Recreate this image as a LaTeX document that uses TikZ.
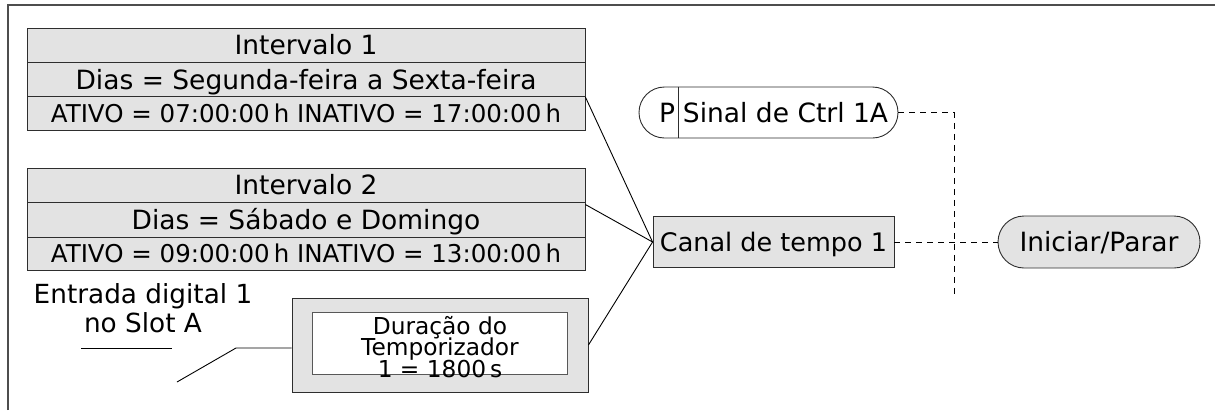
\documentclass[tikz,border=0pt]{standalone}
\usepackage{fontspec}
\setmainfont{DejaVu Sans}
\usetikzlibrary{calc}
\definecolor{boxg}{HTML}{E3E3E3}
\definecolor{linec}{HTML}{2E2E2E}
\newcommand\tmrfont{\fontsize{23.3}{21.5}\selectfont\lineskiplimit=-50pt\relax}
\tikzset{
  frameline/.style={draw=linec!85, line width=1.4pt},
  box/.style={draw=linec, fill=boxg, line width=0.9pt, inner sep=0pt},
  wbox/.style={draw=linec!80, fill=white, line width=0.9pt, inner sep=0pt},
  conn/.style={draw=black, line width=0.9pt},
  dashline/.style={draw=black, line width=0.9pt, dash pattern=on 6pt off 5pt},
  fbig/.style={font=\fontsize{26.5}{28}\selectfont, text height=19.3pt, text depth=0pt},
  fsmall/.style={font=\fontsize{24.5}{26}\selectfont, text height=17.9pt, text depth=0pt},
  fcanal/.style={font=\fontsize{25.5}{27}\selectfont, text height=18.6pt, text depth=0pt},
  plain/.style={inner sep=0pt},
}
\begin{document}
\begin{tikzpicture}[x=1pt,y=-1pt]
\useasboundingbox (0,0) rectangle (1215,410);
\draw[frameline] (8,410) -- (8,5) -- (1215,5);

% Intervalo 1
\node[box, fbig, minimum width=558pt, minimum height=34pt] (i1a) at (306,45) {Intervalo 1};
\node[box, fbig, minimum width=558pt, minimum height=34.7pt] (i1b) at (306,79.35) {Dias = Segunda-feira a Sexta-feira};
\node[box, fsmall, minimum width=558pt, minimum height=33.3pt] (i1c) at (306,113.35) {ATIVO = 07:00:00\,h INATIVO = 17:00:00\,h};

% Intervalo 2
\node[box, fbig, minimum width=558pt, minimum height=34pt] (i2a) at (306,185) {Intervalo 2};
\node[box, fbig, minimum width=558pt, minimum height=35pt] (i2b) at (306,219.5) {Dias = Sábado e Domingo};
\node[box, fsmall, minimum width=558pt, minimum height=33pt] (i2c) at (306,253.5) {ATIVO = 09:00:00\,h INATIVO = 13:00:00\,h};

% Entrada
\node[plain, align=center, font=\fontsize{26.3}{29}\selectfont] (entr) at (143,308) {Entrada digital 1\\no Slot A};
\coordinate (ul1) at (81,348);
\coordinate (ul2) at (172,348);
\draw[conn] (ul1) -- (ul2);

% Temporizador
\node[box, minimum width=296pt, minimum height=94pt] (tout) at (440,345) {};
\node[wbox, minimum width=255pt, minimum height=62pt] (tin) at (439.5,343) {};
\node[plain, align=center, font=\tmrfont] (ttext) at (440,347) {Duração do\\Temporizador\\1 = 1800\,s};

\coordinate (ea) at (177,382);
\coordinate (eb) at (236,348);
\draw[conn] (ea) -- (eb) -- ($(tout.west)+(0,3)$);

% Canal de tempo 1
\node[box, fcanal, minimum width=241pt, minimum height=51pt] (canal) at (773.5,242) {Canal de tempo 1};

\draw[conn] (i1b.south east) -- (canal.west);
\draw[conn] ($(i2b.north east)+(0,3)$) -- (canal.west);
\draw[conn] (tout.east) -- (canal.west);

% Sinal de Ctrl 1A
\node[draw=linec, fill=white, line width=0.9pt, rounded corners=25.5pt, minimum width=259pt, minimum height=51pt, inner sep=0pt] (sinal) at (768.5,112.5) {};
\draw[draw=linec, line width=0.9pt] ($(sinal.north west)+(40,0)$) -- ($(sinal.south west)+(40,0)$);
\node[plain, fbig] (sp) at (667,112.5) {P};
\node[plain, fbig] (stext) at (785.5,112.5) {Sinal de Ctrl 1A};

% Iniciar/Parar
\node[box, fbig, rounded corners=26pt, minimum width=202pt, minimum height=52pt] (inic) at (1099,242) {Iniciar/Parar};

% dashed
\coordinate (dc) at (954,112.5);
\coordinate (dd) at (954,298);
\draw[dashline] (sinal.east) -- (dc) -- (dd);
\draw[dashline] (canal.east) -- (inic.west);
\end{tikzpicture}
\end{document}
